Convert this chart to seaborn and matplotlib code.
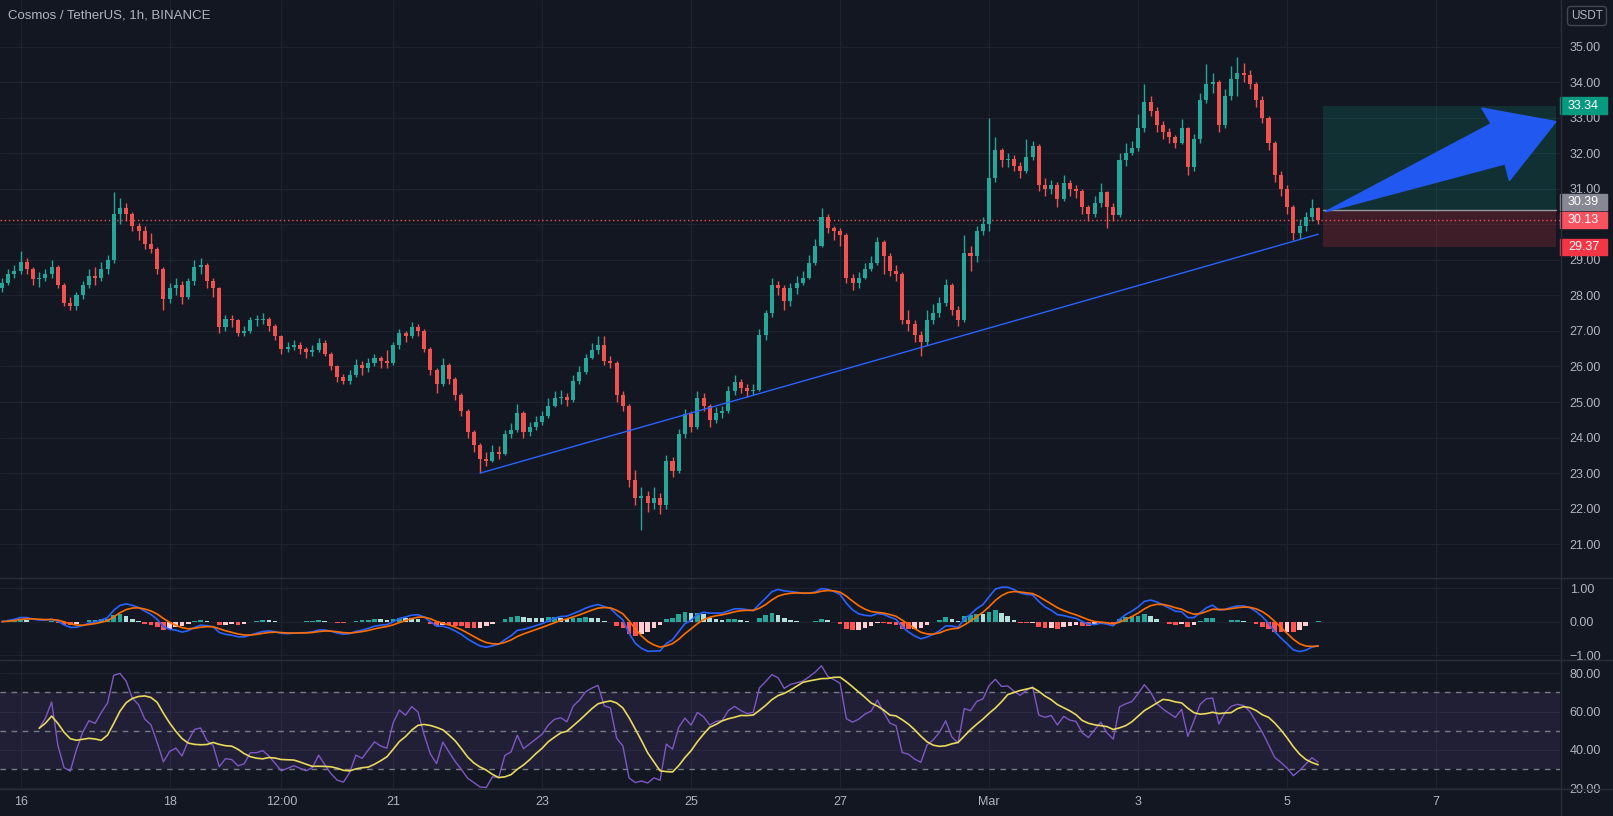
import numpy as np
import pandas as pd
import seaborn as sns
import matplotlib
matplotlib.use('Agg')
import matplotlib.pyplot as plt
from matplotlib.lines import Line2D
from matplotlib.patches import Polygon, Rectangle

# ATOM/USDT, one candle per 2 hours
# first bar = 15 Feb 18:00, last bar = 5 Mar 10:00 (hours counted from 16 Feb 00:00)
first_hour = -6
step_hours = 2
first_open = 28.2

close = [28.35, 28.6, 28.7, 28.95, 28.75, 28.45, 28.5, 28.6, 28.8, 28.3,
         27.8, 27.7, 28.0, 28.3, 28.55, 28.5, 28.75, 29.0, 30.3, 30.45,
         30.3, 29.95, 29.8, 29.45, 29.3, 28.75, 27.9, 28.2, 28.3, 27.95,
         28.4, 28.8, 28.85, 28.4, 28.2, 27.1, 27.35, 27.3, 26.95, 27.0,
         27.3, 27.3, 27.35, 27.15, 26.85, 26.5, 26.55, 26.6, 26.5, 26.4,
         26.45, 26.65, 26.35, 26.0, 25.7, 25.6, 25.75, 26.05, 25.95, 26.1,
         26.25, 26.15, 26.1, 26.6, 26.95, 26.85, 27.1, 27.0, 26.5, 25.9,
         25.5, 26.05, 25.65, 25.2, 24.75, 24.15, 23.8, 23.4, 23.35, 23.6,
         23.55, 24.1, 24.2, 24.7, 24.15, 24.3, 24.45, 24.6, 24.9, 25.1,
         25.15, 25.05, 25.6, 25.85, 26.25, 26.45, 26.6, 26.15, 26.1, 25.2,
         24.9, 22.8, 22.3, 22.35, 22.15, 22.3, 22.1, 23.35, 23.05, 24.1,
         24.65, 24.3, 25.1, 24.9, 24.5, 24.7, 24.75, 25.3, 25.55, 25.4,
         25.3, 25.35, 26.9, 27.5, 28.3, 28.2, 27.85, 28.2, 28.35, 28.5,
         28.9, 29.4, 30.2, 29.9, 29.8, 29.7, 28.5, 28.35, 28.5, 28.75,
         28.9, 29.5, 29.1, 28.7, 28.6, 27.3, 27.2, 26.9, 26.7, 27.3,
         27.5, 27.8, 28.3, 27.6, 27.3, 29.2, 29.1, 29.8, 30.0, 31.3,
         32.1, 31.8, 31.85, 31.65, 31.5, 31.9, 32.2, 31.1, 31.0, 31.1,
         30.7, 31.15, 31.0, 30.95, 30.5, 30.3, 30.6, 30.9, 30.5, 30.25,
         31.8, 32.0, 32.15, 32.7, 33.45, 33.2, 32.8, 32.6, 32.45, 32.3,
         32.7, 31.6, 32.4, 33.5, 33.95, 34.0, 32.8, 33.6, 34.1, 34.25,
         34.2, 33.95, 33.5, 33.0, 32.3, 31.4, 31.0, 30.5, 29.75, 29.95,
         30.2, 30.45, 30.13]

high = [28.5, 28.75, 28.85, 29.25, 29.05, 28.8, 28.65, 28.75, 29.0, 28.85,
        28.35, 27.95, 28.1, 28.4, 28.75, 28.8, 28.95, 29.15, 30.9, 30.75,
        30.6, 30.35, 30.05, 29.95, 29.75, 29.35, 28.8, 28.35, 28.5, 28.4,
        28.5, 29.0, 29.05, 28.9, 28.5, 28.25, 27.45, 27.45, 27.35, 27.15,
        27.4, 27.45, 27.5, 27.4, 27.2, 26.9, 26.7, 26.75, 26.7, 26.55,
        26.6, 26.8, 26.75, 26.4, 26.05, 25.8, 25.9, 26.2, 26.15, 26.25,
        26.35, 26.3, 26.45, 26.7, 27.05, 27.0, 27.25, 27.2, 27.05, 26.55,
        25.95, 26.25, 26.1, 25.7, 25.25, 24.8, 24.2, 23.85, 23.6, 23.8,
        23.75, 24.2, 24.4, 24.95, 24.75, 24.45, 24.6, 24.75, 25.1, 25.3,
        25.35, 25.25, 25.75, 26.0, 26.35, 26.65, 26.85, 26.85, 26.3, 26.15,
        25.3, 24.95, 23.1, 22.6, 22.5, 22.6, 22.45, 23.5, 23.45, 24.25,
        24.8, 24.75, 25.3, 25.25, 24.95, 24.85, 24.9, 25.45, 25.75, 25.65,
        25.5, 25.5, 27.05, 27.6, 28.5, 28.4, 28.3, 28.35, 28.55, 28.7,
        29.15, 29.6, 30.45, 30.3, 29.95, 29.9, 29.75, 28.6, 28.65, 28.9,
        29.1, 29.65, 29.55, 29.2, 28.85, 28.65, 27.6, 27.3, 27.0, 27.6,
        27.75, 27.95, 28.45, 28.35, 27.7, 29.7, 29.4, 29.95, 30.2, 33.0,
        32.45, 32.15, 32.0, 31.95, 31.75, 32.4, 32.35, 32.25, 31.3, 31.25,
        31.2, 31.4, 31.25, 31.1, 31.0, 30.55, 30.8, 31.15, 30.95, 30.6,
        32.0, 32.3, 32.35, 33.1, 33.95, 33.6, 33.3, 32.9, 32.7, 32.5,
        32.95, 32.75, 32.55, 33.7, 34.5, 34.25, 34.05, 33.8, 34.45, 34.7,
        34.55, 34.35, 34.0, 33.6, 33.05, 32.35, 31.5, 31.1, 30.55, 30.15,
        30.35, 30.7, 30.5]

low = [28.1, 28.3, 28.5, 28.6, 28.6, 28.3, 28.25, 28.4, 28.5, 28.2,
       27.7, 27.6, 27.6, 27.9, 28.2, 28.3, 28.4, 28.6, 28.9, 30.0,
       30.1, 29.8, 29.55, 29.3, 29.2, 28.6, 27.6, 27.8, 28.0, 27.75,
       27.9, 28.3, 28.6, 28.2, 27.95, 26.95, 27.0, 27.1, 26.85, 26.85,
       26.95, 27.15, 27.2, 27.0, 26.75, 26.35, 26.4, 26.45, 26.35, 26.25,
       26.3, 26.4, 26.3, 25.9, 25.55, 25.5, 25.5, 25.7, 25.75, 25.85,
       26.0, 25.95, 25.95, 26.05, 26.5, 26.7, 26.8, 26.85, 26.4, 25.75,
       25.25, 25.45, 25.5, 25.05, 24.6, 24.0, 23.6, 23.0, 23.2, 23.3,
       23.4, 23.5, 24.0, 24.15, 24.0, 24.05, 24.2, 24.35, 24.55, 24.85,
       24.95, 24.9, 25.0, 25.5, 25.8, 26.2, 26.35, 26.05, 25.95, 25.0,
       24.75, 22.6, 22.1, 21.4, 21.9, 22.0, 21.85, 22.0, 22.9, 23.0,
       24.0, 24.15, 24.25, 24.75, 24.3, 24.4, 24.55, 24.7, 25.2, 25.25,
       25.15, 25.2, 25.3, 26.75, 27.4, 28.0, 27.6, 27.7, 28.05, 28.3,
       28.45, 28.85, 29.35, 29.75, 29.55, 29.4, 28.35, 28.15, 28.2, 28.45,
       28.7, 28.85, 28.6, 28.55, 28.4, 27.2, 27.0, 26.7, 26.3, 26.6,
       27.2, 27.4, 27.7, 27.45, 27.15, 27.25, 28.7, 28.95, 29.7, 29.8,
       31.2, 31.6, 31.6, 31.5, 31.3, 31.45, 31.8, 30.95, 30.8, 30.85,
       30.5, 30.65, 30.8, 30.75, 30.3, 30.1, 30.2, 30.5, 29.9, 30.1,
       30.2, 31.65, 31.95, 32.05, 32.6, 33.05, 32.6, 32.4, 32.3, 32.15,
       32.25, 31.4, 31.5, 32.3, 33.4, 33.7, 32.6, 32.7, 33.5, 33.6,
       34.0, 33.8, 33.3, 32.85, 32.1, 31.2, 30.8, 30.3, 29.55, 29.6,
       29.8, 30.1, 30.0]

date_labels = ['16', '18', '12:00', '21', '23', '25', '27', 'Mar', '3', '5', '7']
date_hours = [0, 48, 84, 120, 168, 216, 264, 312, 360, 408, 456]
price_ticks = [21, 22, 23, 24, 25, 26, 27, 28, 29, 30, 31, 32, 33, 34, 35]
macd_ticks = [-1, 0, 1]
macd_labels = ['\u22121.00', '0.00', '1.00']
rsi_ticks = [20, 40, 60, 80]

# long position drawing and trend line
entry, stop, target = 30.39, 29.37, 33.34
trend_hours, trend_prices = [148, 418], [23.0, 29.72]
box_hours = [419.5, 494.6]
arrow_hours = [420.2, 478.2, 479.6, 494.6, 470.7, 473.7]
arrow_prices = [30.35, 31.70, 31.23, 32.89, 33.27, 32.83]

df = pd.DataFrame({'close': close, 'high': high, 'low': low})
df['open'] = df['close'].shift(1).fillna(first_open)
df['hour'] = first_hour + step_hours * np.arange(len(df))

# MACD 12/26/9 of the 1h chart, rescaled to 2h bars
fast = df['close'].ewm(alpha=0.284, adjust=False).mean()
slow = df['close'].ewm(alpha=0.1427, adjust=False).mean()
df['macd'] = fast - slow
df['signal'] = df['macd'].ewm(alpha=0.36, adjust=False).mean()
df['hist'] = df['macd'] - df['signal']

# RSI with its moving average
delta = df['close'].diff()
gain = delta.clip(lower=0).ewm(alpha=1 / 11, min_periods=6).mean()
loss = (-delta.clip(upper=0)).ewm(alpha=1 / 11, min_periods=6).mean()
df['rsi'] = 100 - 100 / (1 + gain / loss)
df['rsi_ma'] = df['rsi'].rolling(8, min_periods=1).mean()

bg = '#131722'
txt = '#b2b5be'
sns.set_style('darkgrid', rc={
    'axes.facecolor': bg,
    'figure.facecolor': bg,
    'axes.edgecolor': bg,
    'grid.color': '#1f2330',
    'grid.linewidth': 1,
    'xtick.color': txt,
    'ytick.color': txt,
    'text.color': txt,
})
plt.rcParams['font.family'] = ['Liberation Sans', 'DejaVu Sans']

W, H = 1613, 816
fig = plt.figure(figsize=(W / 100, H / 100), dpi=100)


def panel(top, bottom):
    a = fig.add_axes([0, 1 - bottom / H, 1560 / W, (bottom - top) / H])
    a.set_xlim(-6.64, 495.9)
    a.set_xticks(date_hours)
    a.yaxis.tick_right()
    a.tick_params(axis='both', length=0, labelsize=9)
    a.tick_params(axis='y', pad=7)
    for s in a.spines.values():
        s.set_visible(False)
    return a


ax = panel(0, 578)
ax_macd = panel(578, 660)
ax_rsi = panel(660, 789)

# candles
up = df['close'] >= df['open']
colors = np.where(up, '#26a69a', '#ef5350')
ax.vlines(df['hour'], df['low'], df['high'], color=colors, lw=1, zorder=3)
body = (df['close'] - df['open']).abs().clip(lower=0.03)
ax.bar(df['hour'], body, bottom=df[['open', 'close']].min(axis=1), width=1.3,
       color=colors, linewidth=0, zorder=3)

ax.plot(trend_hours, trend_prices, color='#2962ff', lw=1, zorder=4)
ax.axhline(close[-1], color='#ef5350', lw=1, ls=(0, (1, 2)), zorder=2)

ax.fill_between(box_hours, entry, target, color='#089981', alpha=0.2, lw=0)
ax.fill_between(box_hours, stop, entry, color='#f23645', alpha=0.2, lw=0)
ax.plot(box_hours, [entry, entry], color='#9598a1', lw=1)
ax.add_patch(Polygon(list(zip(arrow_hours, arrow_prices)), closed=True,
                     fc='#2159f0', ec='#2159f0', lw=1, zorder=6))

ax.set_ylim(20.05, 36.31)
ax.set_yticks(price_ticks)
# 30.00 sits under the last-price tags, as on the original
ax.set_yticklabels(['' if p == 30 else f'{p:.2f}' for p in price_ticks])
ax.tick_params(labelbottom=False)


def price_tag(y, text, color):
    tr = ax.get_yaxis_transform()
    ax.add_patch(Rectangle((1.0, y - 0.23), 47 / 1560, 0.46, transform=tr,
                           color=color, clip_on=False, zorder=7))
    ax.text(1.0 + 8 / 1560, y, text, transform=tr, color='white', fontsize=9,
            va='center', ha='left', clip_on=False, zorder=8)


price_tag(target, f'{target:.2f}', '#089981')
price_tag(close[-1] + 0.5, f'{entry:.2f}', '#868993')
price_tag(close[-1], f'{close[-1]:.2f}', '#f7525f')
price_tag(stop, f'{stop:.2f}', '#f23645')

# MACD
h = df['hist']
prev = h.shift(1)
hist_colors = np.where(h >= 0, np.where(prev < h, '#26a69a', '#b2dfdb'),
                       np.where(prev < h, '#ffcdd2', '#ff5252'))
ax_macd.bar(df['hour'], h, width=1.5, color=hist_colors, linewidth=0)
sns.lineplot(data=df, x='hour', y='macd', ax=ax_macd, color='#2962ff', linewidth=1.2)
sns.lineplot(data=df, x='hour', y='signal', ax=ax_macd, color='#ff6d00', linewidth=1.2)
ax_macd.set_ylim(-1.15, 1.31)
ax_macd.set_yticks(macd_ticks)
ax_macd.set_yticklabels(macd_labels)
ax_macd.tick_params(labelbottom=False)
ax_macd.set_xlabel('')
ax_macd.set_ylabel('')

# RSI
ax_rsi.axhspan(30, 70, color='#7e57c2', alpha=0.13, lw=0)
for lvl in [70, 50, 30]:
    ax_rsi.axhline(lvl, color='#787b86', lw=1, ls=(0, (4, 4)))
sns.lineplot(data=df, x='hour', y='rsi', ax=ax_rsi, color='#7e57c2', linewidth=1)
sns.lineplot(data=df, x='hour', y='rsi_ma', ax=ax_rsi, color='#e8d95c', linewidth=1.2)
ax_rsi.set_ylim(19.6, 86.9)
ax_rsi.set_yticks(rsi_ticks)
ax_rsi.set_yticklabels([f'{v:.2f}' for v in rsi_ticks])
ax_rsi.set_xticklabels(date_labels)
ax_rsi.tick_params(axis='x', pad=5)
ax_rsi.set_xlabel('')
ax_rsi.set_ylabel('')

# panel borders
sep = '#2a2e39'
for y in [578, 660, 789]:
    fig.add_artist(Line2D([0, 1], [1 - y / H, 1 - y / H], color=sep, lw=1))
fig.add_artist(Line2D([1560.5 / W, 1560.5 / W], [0, 1], color=sep, lw=1))

fig.text(8 / W, 1 - 16 / H, 'Cosmos / TetherUS, 1h, BINANCE', fontsize=9.5,
         va='center', ha='left', color=txt)
fig.text(1587 / W, 1 - 16 / H, 'USDT', fontsize=8.5, va='center', ha='center',
         color=txt, bbox=dict(boxstyle='round,pad=0.3', fc=bg, ec='#434651'))

fig.savefig('out.png', dpi=100, facecolor=fig.get_facecolor())
